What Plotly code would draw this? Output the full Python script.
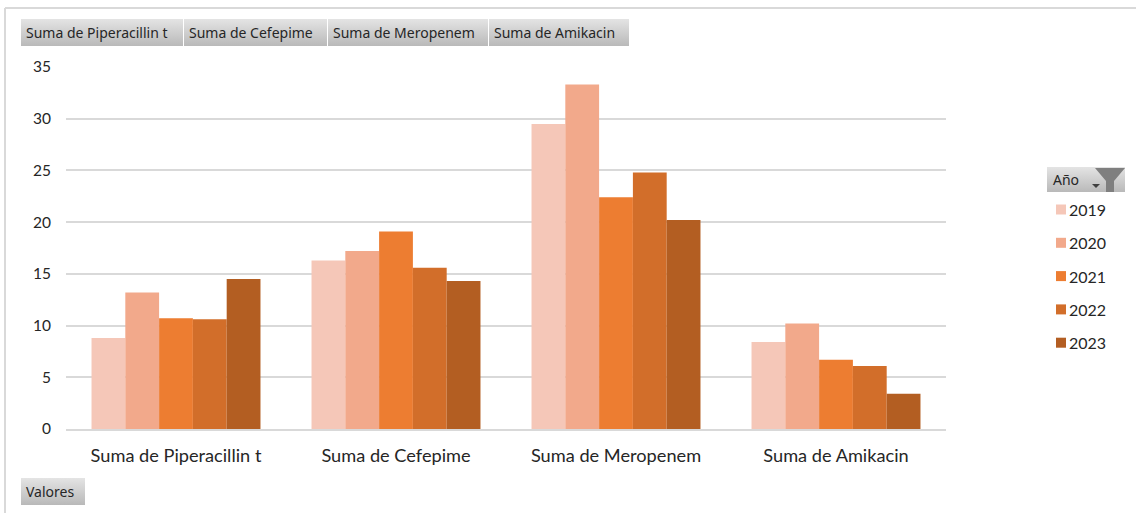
import base64
import plotly.graph_objects as go

categories = ["Suma de Piperacillin t", "Suma de Cefepime", "Suma de Meropenem", "Suma de Amikacin"]
years = ["2019", "2020", "2021", "2022", "2023"]
values_2019 = [8.8, 16.3, 29.5, 8.4]
values_2020 = [13.2, 17.2, 33.3, 10.2]
values_2021 = [10.7, 19.1, 22.4, 6.7]
values_2022 = [10.6, 15.6, 24.8, 6.1]
values_2023 = [14.5, 14.3, 20.2, 3.4]
series = [values_2019, values_2020, values_2021, values_2022, values_2023]
colors = ["#F5C7B8", "#F2A98B", "#ED7D31", "#D26E2A", "#B35E22"]
field_buttons = [("Suma de Piperacillin t", 21, 183), ("Suma de Cefepime", 184, 327),
                 ("Suma de Meropenem", 328, 488), ("Suma de Amikacin", 489, 629)]

W, H = 1136, 513
L, R, T, B = 66, 946, 67, 429
FONT = "Lato"
BTN = "Noto Sans"
TEXT = "#262626"

fig = go.Figure()
for year, vals, col in zip(years, series, colors):
    fig.add_bar(name=year, x=categories, y=vals, marker=dict(color=col, line_width=0), showlegend=False)


def px(x):
    return (x - L) / (R - L)


def py(y):
    return (B - y) / (B - T)


shapes, annotations, images = [], [], []
grad = ("<svg xmlns='http://www.w3.org/2000/svg' width='10' height='10' preserveAspectRatio='none'>"
        "<defs><linearGradient id='g' x1='0' y1='0' x2='0' y2='1'>"
        "<stop offset='0' stop-color='#E4E4E4'/><stop offset='1' stop-color='#B9B9B9'/></linearGradient></defs>"
        "<rect width='10' height='10' fill='url(#g)'/></svg>")
grad_uri = "data:image/svg+xml;base64," + base64.b64encode(grad.encode()).decode()


def button(x0, x1, y0, y1, label, tx=None):
    images.append(dict(source=grad_uri, xref="paper", yref="paper", x=px(x0), y=py(y0),
                       sizex=px(x1) - px(x0), sizey=py(y0) - py(y1), sizing="stretch",
                       xanchor="left", yanchor="top", layer="below"))
    annotations.append(dict(text=label, xref="paper", yref="paper", x=px(tx if tx else x0 + 3), y=py((y0 + y1) / 2),
                            xanchor="left", yanchor="middle", showarrow=False,
                            font=dict(family=BTN, size=14, color=TEXT)))


# outer frame
shapes.append(dict(type="line", xref="paper", yref="paper", x0=px(5), x1=px(5), y0=py(8), y1=py(H), line=dict(color="#D9D9D9", width=2)))
shapes.append(dict(type="line", xref="paper", yref="paper", x0=px(5), x1=px(W), y0=py(8), y1=py(8), line=dict(color="#D9D9D9", width=2)))

for label, x0, x1 in field_buttons:
    button(x0, x1, 19, 46, label)
button(21, 85, 478, 505, "Valores")
button(1047, 1125, 167, 192, "Año", 1051)

# funnel icon and dropdown arrow
pts = [(1095, 168), (1125, 168), (1114, 181), (1114, 192), (1106, 192), (1106, 181)]
path = "M " + " L ".join(f"{px(a):.5f},{py(b):.5f}" for a, b in pts) + " Z"
shapes.append(dict(type="path", xref="paper", yref="paper", path=path, fillcolor="#7F7F7F", line_width=0))
pts = [(1092, 184), (1100, 184), (1096, 188)]
path = "M " + " L ".join(f"{px(a):.5f},{py(b):.5f}" for a, b in pts) + " Z"
shapes.append(dict(type="path", xref="paper", yref="paper", path=path, fillcolor="#404040", line_width=0))

# legend entries
for i, (year, col) in enumerate(zip(years, colors)):
    yc = 209.5 + i * 33.3
    shapes.append(dict(type="rect", xref="paper", yref="paper", x0=px(1056), x1=px(1066), y0=py(yc - 5), y1=py(yc + 5),
                       fillcolor=col, line_width=0))
    annotations.append(dict(text=year, xref="paper", yref="paper", x=px(1067), y=py(yc), xanchor="left", yanchor="middle",
                            showarrow=False, font=dict(family=FONT, size=16, color=TEXT)))

fig.update_layout(
    width=W, height=H, autosize=False,
    margin=dict(l=L, r=W - R, t=T, b=H - B, pad=0),
    paper_bgcolor="white", plot_bgcolor="white",
    barmode="group", bargap=0.232, bargroupgap=0,
    font=dict(family=FONT, size=16, color=TEXT),
    shapes=shapes, annotations=annotations, images=images,
    xaxis=dict(showgrid=False, showline=True, linecolor="#D9D9D9", linewidth=2, ticks="", ticklabelstandoff=9,
               tickfont=dict(family=FONT, size=18.2, color=TEXT)),
    yaxis=dict(range=[0, 35], dtick=5, showgrid=True, gridcolor="#D9D9D9", gridwidth=2, zeroline=False,
               showline=False, ticks="", ticklabelstandoff=14, tickfont=dict(family=FONT, size=15.5, color=TEXT)),
)

fig.write_html("out.html", config=dict(displayModeBar=False),
               post_script="document.body.style.margin='0';document.documentElement.style.overflow='hidden';")
